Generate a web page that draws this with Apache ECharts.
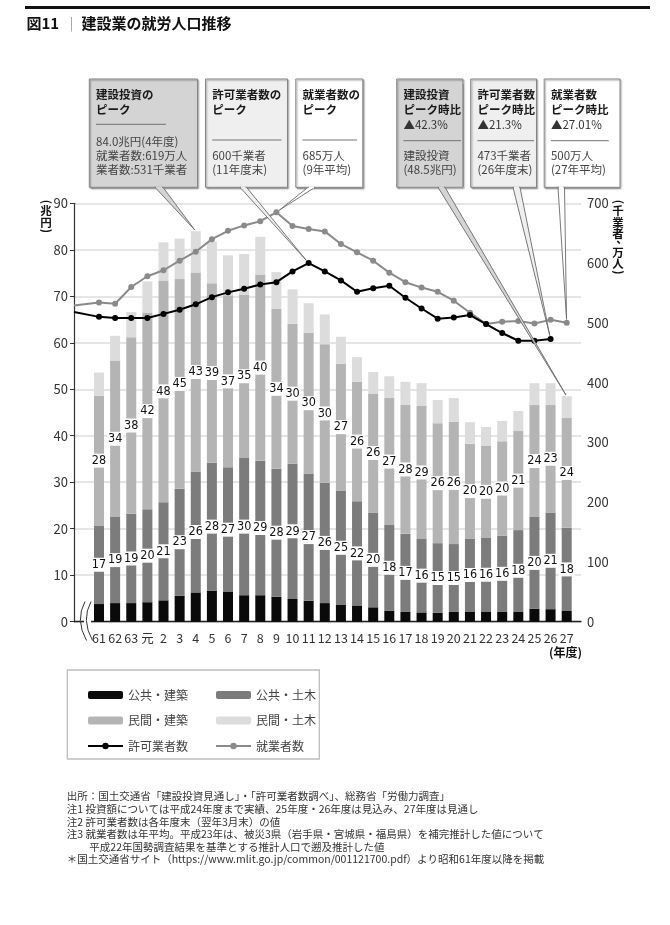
<!DOCTYPE html>
<html><head><meta charset="utf-8">
<script src="https://cdn.jsdelivr.net/npm/echarts@6.0.0/dist/echarts.min.js"></script>
<style>html,body{margin:0;padding:0;background:#fff}#c{width:670px;height:925px}</style>
</head><body><div id="c"></div>
<script>
// ---------------- data ----------------
const categories = ['61','62','63','元','2','3','4','5','6','7','8','9','10','11','12','13','14','15','16','17','18','19','20','21','22','23','24','25','26','27'];
// 建設投資 (兆円)
const publicBuilding  = [3.8,4.0,4.0,4.2,4.6,5.6,6.3,6.7,6.4,5.7,5.7,5.4,4.9,4.5,4.0,3.6,3.5,3.1,2.4,2.1,2.0,1.9,2.1,2.2,2.2,2.1,2.2,2.8,2.7,2.3];
const publicCivil     = [16.9,18.5,19.2,20.0,21.1,23.0,26.0,27.5,26.8,29.5,28.9,27.5,29.1,27.4,25.9,24.6,22.4,20.4,18.4,16.8,15.8,15.0,14.6,15.7,15.8,16.4,17.5,19.7,20.8,17.9];
const privateBuilding = [27.9,33.7,38.0,42.2,47.7,45.1,42.8,38.6,37.0,35.2,40.1,34.4,30.1,30.2,29.8,27.3,25.7,25.6,27.3,27.7,28.6,25.8,26.3,20.4,19.9,20.3,21.3,24.1,23.1,23.6];
const privateCivil    = [5.0,5.3,5.4,6.8,8.2,8.7,8.9,9.0,8.6,8.7,8.1,7.9,7.4,6.4,6.4,5.8,5.3,4.6,4.7,5.0,4.9,5.0,5.1,4.6,4.0,4.4,4.3,4.7,4.7,4.7];
// 許可業者数 (千業者, 年度末)
const permitHolders = [510,508,508,508,515,522,531,543,551,557,564,568,586,600,586,571,552,558,562,542,524,507,509,513,498,483,470,470,473,null];
// 就業者数 (万人, 年平均)
const workers = [534,532,560,578,588,604,619,640,654,663,670,685,662,657,653,632,618,604,584,568,559,552,537,517,498,502,503,499,505,500];
// values where the lines enter the plot at its left edge (previous year, cut by the axis break)
const permitLead = 518;
const workersLead = 529;
// axes
const leftAxis = {min: 0, max: 90, interval: 10};
const rightAxis = {min: 0, max: 700, interval: 100};

// ---------------- layout ----------------
const W = 670, H = 925;
const TOP = 203.3, BASE = 621.7;
const PLOT_L = 74, PLOT_R = 581;
const C_FIRST = 99, C_LAST = 566.7;
const STEP = (C_LAST - C_FIRST) / (categories.length - 1);
const XMIN = (PLOT_L - C_FIRST) / STEP;
const XMAX = (PLOT_R - C_FIRST) / STEP;
const FONT = "'Noto Sans CJK JP','Noto Sans',sans-serif";
const NARROW = "'Liberation Sans Narrow','DejaVu Sans Condensed','Roboto Condensed','Noto Sans',sans-serif";

const totals = categories.map((c, i) => publicBuilding[i] + publicCivil[i] + privateBuilding[i] + privateCivil[i]);

const barLabel = {
  show: true, position: 'inside',
  formatter: p => Math.round(p.value),
  backgroundColor: '#fff', color: '#111',
  fontFamily: NARROW, fontSize: 12.5, padding: [1, 1, 0, 1], lineHeight: 13
};

const chart = echarts.init(document.getElementById('c'), null, {renderer: 'canvas', width: W, height: H});

const option = {
  animation: false,
  backgroundColor: '#fff',
  textStyle: {fontFamily: FONT},
  grid: [
    {left: C_FIRST - STEP / 2, right: W - (C_LAST + STEP / 2), top: TOP, bottom: H - BASE},
    {left: PLOT_L, right: W - PLOT_R, top: TOP, bottom: H - BASE}
  ],
  xAxis: [
    {gridIndex: 0, type: 'category', data: categories,
     axisLine: {show: false}, axisTick: {show: false},
     axisLabel: {color: '#333', fontSize: 12.5, margin: 10, interval: 0, fontFamily: FONT}},
    {gridIndex: 1, type: 'value', min: XMIN, max: XMAX,
     axisLine: {show: true, onZero: false, lineStyle: {color: '#222', width: 1.3}},
     axisTick: {show: false}, axisLabel: {show: false}, splitLine: {show: false}}
  ],
  yAxis: [
    {gridIndex: 0, type: 'value', min: leftAxis.min, max: leftAxis.max, show: false},
    {gridIndex: 1, type: 'value', position: 'left', min: leftAxis.min, max: leftAxis.max, interval: leftAxis.interval,
     axisLine: {show: true, onZero: false, lineStyle: {color: '#333', width: 1.2}},
     axisTick: {show: true, length: 4, lineStyle: {color: '#333'}},
     axisLabel: {color: '#333', fontSize: 13, margin: 6, fontFamily: FONT},
     splitLine: {show: true, lineStyle: {color: '#dcdcdc', width: 1.5}}},
    {gridIndex: 1, type: 'value', position: 'right', min: rightAxis.min, max: rightAxis.max, interval: rightAxis.interval,
     axisLine: {show: false, onZero: false}, axisTick: {show: false},
     axisLabel: {color: '#333', fontSize: 13, margin: 6, fontFamily: FONT},
     splitLine: {show: false}}
  ],
  legend: [
    {data: ['公共・建築', '民間・建築', '許可業者数'], orient: 'vertical', left: 82, top: 684,
     itemWidth: 35, itemHeight: 8, itemGap: 13.5, selectedMode: false,
     textStyle: {fontSize: 12, color: '#444', fontFamily: FONT}},
    {data: ['公共・土木', '民間・土木', '就業者数'], orient: 'vertical', left: 210, top: 684,
     itemWidth: 35, itemHeight: 8, itemGap: 13.5, selectedMode: false,
     textStyle: {fontSize: 12, color: '#444', fontFamily: FONT}}
  ],
  series: [
    {name: '公共・建築', type: 'bar', xAxisIndex: 0, yAxisIndex: 0, stack: 'inv', barWidth: 10,
     itemStyle: {color: '#0a0a0a'}, data: publicBuilding},
    {name: '公共・土木', type: 'bar', xAxisIndex: 0, yAxisIndex: 0, stack: 'inv', barWidth: 10,
     itemStyle: {color: '#7c7c7c'}, label: barLabel, data: publicCivil},
    {name: '民間・建築', type: 'bar', xAxisIndex: 0, yAxisIndex: 0, stack: 'inv', barWidth: 10,
     itemStyle: {color: '#b4b4b4'}, label: barLabel, data: privateBuilding},
    {name: '民間・土木', type: 'bar', xAxisIndex: 0, yAxisIndex: 0, stack: 'inv', barWidth: 10,
     itemStyle: {color: '#dcdcdc'}, data: privateCivil},
    {name: '就業者数', type: 'line', xAxisIndex: 1, yAxisIndex: 2, z: 5,
     symbol: 'circle', symbolSize: 6,
     lineStyle: {color: '#8a8a8a', width: 2}, itemStyle: {color: '#8a8a8a'},
     data: [{value: [XMIN, workersLead], symbol: 'none'}].concat(workers.map((v, i) => [i, v]))},
    {name: '許可業者数', type: 'line', xAxisIndex: 1, yAxisIndex: 2, z: 6,
     symbol: 'circle', symbolSize: 6,
     lineStyle: {color: '#000', width: 2}, itemStyle: {color: '#000'},
     data: [{value: [XMIN, permitLead], symbol: 'none'}].concat(
       permitHolders.map((v, i) => v == null ? null : [i, v]).filter(d => d))}
  ]
};
chart.setOption(option);

// ---------------- annotations ----------------
function txt(x, y, s, font, fill, align, extra) {
  return Object.assign({type: 'text', x: x, y: y, silent: true, z: 100,
    style: {text: s, font: font, fill: fill || '#333', align: align || 'left', verticalAlign: 'middle'}}, extra || {});
}
const G = [];
// top rule and title
G.push({type: 'rect', silent: true, z: 100, shape: {x: 25, y: 6, width: 625, height: 3}, style: {fill: '#111'}});
G.push(txt(26.5, 23.5, '図11', "bold 15px " + FONT, '#111'));
G.push(txt(71.5, 23.5, '|', "13px " + FONT, '#999', 'center'));
G.push(txt(81.5, 23.5, '建設業の就労人口推移', "bold 15px " + FONT, '#111'));

// vertical axis titles
function vertical(x, yStart, parts, font) {
  let y = yStart;
  parts.forEach(p => {
    const h = p.h;
    const cy = y + h / 2;
    if (p.rot) {
      G.push({type: 'text', x: x, y: cy, rotation: -Math.PI / 2, silent: true, z: 100,
        style: {text: p.c, font: font, fill: '#111', align: 'center', verticalAlign: 'middle'}});
    } else {
      G.push(txt(x + (p.dx || 0), cy + (p.dy || 0), p.c, font, '#111', 'center'));
    }
    y += h;
  });
}
vertical(46, 199, [{c: '(', h: 6, rot: true}, {c: '兆', h: 11.5}, {c: '円', h: 11.5}, {c: ')', h: 6, rot: true}], "bold 11.5px " + FONT);
vertical(618, 199, [{c: '(', h: 6, rot: true}, {c: '千', h: 11.5}, {c: '業', h: 11.5}, {c: '者', h: 11.5},
  {c: '、', h: 7, dx: 4, dy: -4}, {c: '万', h: 11.5}, {c: '人', h: 11.5}, {c: ')', h: 6, rot: true}], "bold 11.5px " + FONT);
G.push(txt(582, 652.5, '(年度)', "bold 12px " + FONT, '#111', 'right'));

// axis break symbol
G.push({type: 'rect', silent: true, z: 100, shape: {x: 84, y: 618.5, width: 7, height: 6}, style: {fill: '#fff'}});
[[85, 75, 86.5], [91, 81, 92.5]].forEach(c => {
  G.push({type: 'bezierCurve', silent: true, z: 101,
    shape: {x1: c[0], y1: 601.5, cpx1: c[1], cpy1: 620, x2: c[2], y2: 640.5},
    style: {stroke: '#333', lineWidth: 1, fill: null}});
});

// callout boxes
const BOX_TOP = 79, BOX_BOTTOM = 187.3;
const TITLE_F = "bold 11.5px " + FONT, BODY_F = "11.5px " + FONT;
const boxes = [
  {x: 89.3, w: 108.2, fill: '#d4d4d4', title: ['建設投資の', 'ピーク'], divY: 124.3, divEnd: 166,
   body: ['84.0兆円(4年度)', '就業者数:619万人', '業者数:531千業者'], bodyY: [141.7, 156, 170],
   root: [155, 163], target: {axes: {xAxisIndex: 0, yAxisIndex: 0}, v: [6, totals[6]]}},
  {x: 205.5, w: 82, fill: '#efefef', title: ['許可業者数の', 'ピーク'], divY: 140, divEnd: 281.5,
   body: ['600千業者', '(11年度末)'], bodyY: [156, 170],
   root: [240, 246.5], target: {axes: {xAxisIndex: 1, yAxisIndex: 2}, v: [13, permitHolders[13]]}},
  {x: 295.8, w: 67, fill: '#ffffff', title: ['就業者数の', 'ピーク'], divY: 140, divEnd: 357,
   body: ['685万人', '(9年平均)'], bodyY: [156, 170],
   root: [308, 315], target: {axes: {xAxisIndex: 1, yAxisIndex: 2}, v: [11, workers[11]]}},
  {x: 396.7, w: 66.2, fill: '#d4d4d4', title: ['建設投資', 'ピーク時比'], sub: '▲42.3%', divY: 140.7, divEnd: 461,
   body: ['建設投資', '(48.5兆円)'], bodyY: [156, 170],
   root: [438, 445], target: {axes: {xAxisIndex: 0, yAxisIndex: 0}, v: [29, totals[29]]}},
  {x: 470.7, w: 65.8, fill: '#efefef', title: ['許可業者数', 'ピーク時比'], sub: '▲21.3%', divY: 140.7, divEnd: 534,
   body: ['473千業者', '(26年度末)'], bodyY: [156, 170],
   root: [513, 520], target: {axes: {xAxisIndex: 1, yAxisIndex: 2}, v: [28, permitHolders[28]]}},
  {x: 544.2, w: 75.8, fill: '#ffffff', title: ['就業者数', 'ピーク時比'], sub: '▲27.01%', divY: 140.7, divEnd: 608.7,
   body: ['500万人', '(27年平均)'], bodyY: [156, 170],
   root: [558, 564.5], target: {axes: {xAxisIndex: 1, yAxisIndex: 2}, v: [29, workers[29]]}}
];
boxes.forEach(b => {
  const tx = b.x + 6.7;
  G.push({type: 'rect', silent: true, z: 90,
    shape: {x: b.x, y: BOX_TOP, width: b.w, height: BOX_BOTTOM - BOX_TOP},
    style: {fill: b.fill, stroke: '#858585', lineWidth: 1,
            shadowBlur: 1.5, shadowColor: 'rgba(0,0,0,0.35)', shadowOffsetX: 1.2, shadowOffsetY: 1.2}});
  G.push(txt(tx, 95, b.title[0], TITLE_F, '#1a1a1a'));
  G.push(txt(tx, 109.5, b.title[1], TITLE_F, '#1a1a1a'));
  if (b.sub) G.push(txt(tx, 125, b.sub, BODY_F, '#333'));
  G.push({type: 'line', silent: true, z: 100, shape: {x1: tx, y1: b.divY, x2: b.divEnd, y2: b.divY},
    style: {stroke: '#666', lineWidth: 0.9}});
  b.body.forEach((s, k) => G.push(txt(tx, b.bodyY[k], s, BODY_F, '#444')));
  // pointer
  const p = chart.convertToPixel(b.target.axes, b.target.v);
  const mx = (b.root[0] + b.root[1]) / 2;
  const dx = mx - p[0], dy = BOX_BOTTOM - p[1];
  const len = Math.sqrt(dx * dx + dy * dy);
  const off = b.target.axes.xAxisIndex === 0 ? 1.5 : 3.5;
  const tip = [p[0] + dx / len * off, p[1] + dy / len * off];
  G.push({type: 'polygon', silent: true, z: 95,
    shape: {points: [[b.root[0], BOX_BOTTOM], tip, [b.root[1], BOX_BOTTOM]]},
    style: {fill: b.fill, stroke: '#6a6a6a', lineWidth: 0.9}});
  G.push({type: 'line', silent: true, z: 96,
    shape: {x1: b.root[0] + 0.9, y1: BOX_BOTTOM, x2: b.root[1] - 0.9, y2: BOX_BOTTOM},
    style: {stroke: b.fill, lineWidth: 2}});
});

// legend frame
G.push({type: 'rect', silent: true, z: 80, shape: {x: 67.3, y: 670, width: 252, height: 89},
  style: {fill: null, stroke: '#bdbdbd', lineWidth: 1.3}});

// footnotes
const NOTE_F = "10.5px " + FONT;
const notes = [
  [66.7, 795.7, '出所：国土交通省「建設投資見通し」・「許可業者数調べ」、総務省「労働力調査」'],
  [66.7, 809, '注1 投資額については平成24年度まで実績、25年度・26年度は見込み、27年度は見通し'],
  [66.7, 821.7, '注2 許可業者数は各年度末（翌年3月末）の値'],
  [66.7, 834.3, '注3 就業者数は年平均。平成23年は、被災3県（岩手県・宮城県・福島県）を補完推計した値について'],
  [89.3, 846.7, '平成22年国勢調査結果を基準とする推計人口で遡及推計した値'],
  [66.7, 859.3, '＊国土交通省サイト（https://www.mlit.go.jp/common/001121700.pdf）より昭和61年度以降を掲載']
];
notes.forEach(n => G.push(txt(n[0], n[1], n[2], NOTE_F, '#333')));

chart.setOption({graphic: {elements: G}});
</script>
</body></html>
